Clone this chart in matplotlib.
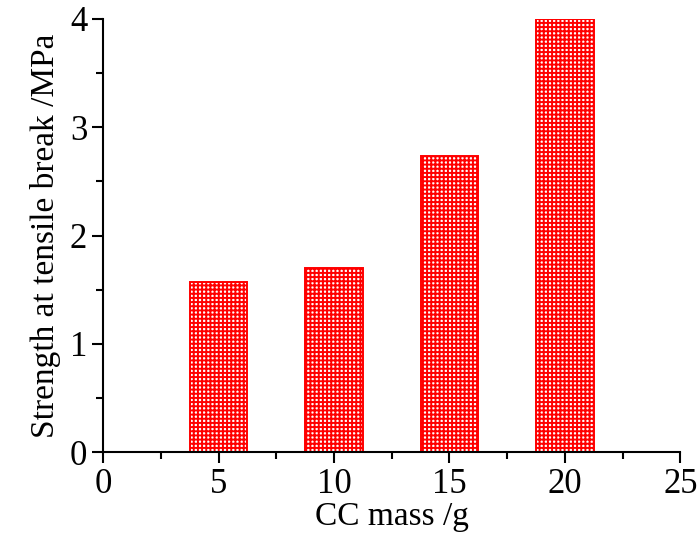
import matplotlib
matplotlib.use("Agg")
import matplotlib.pyplot as plt
from matplotlib.ticker import MultipleLocator

# data
cc_mass = [5, 10, 15, 20]
strength = [1.57, 1.70, 2.73, 4.0]

plt.rcParams['font.family'] = ['Liberation Serif', 'DejaVu Serif']
plt.rcParams['hatch.linewidth'] = 1.4
plt.rcParams['hatch.color'] = 'red'

fig = plt.figure(figsize=(6.97, 5.39), dpi=100)
ax = fig.add_axes([0.148, 0.161, 0.828, 0.804])

ax.bar(cc_mass, strength, width=2.5, color='white', edgecolor='red',
       hatch='++++', linewidth=1.4)

ax.set_xlim(0, 25)
ax.set_ylim(0, 4)
ax.xaxis.set_major_locator(MultipleLocator(5))
ax.xaxis.set_minor_locator(MultipleLocator(2.5))
ax.yaxis.set_major_locator(MultipleLocator(1))
ax.yaxis.set_minor_locator(MultipleLocator(0.5))

for s in ['top', 'right']:
    ax.spines[s].set_visible(False)
for s in ['left', 'bottom']:
    ax.spines[s].set_linewidth(1.5)

ax.tick_params(which='major', direction='out', length=8, width=1.5, labelsize=25)
ax.tick_params(which='minor', direction='out', length=5, width=1.5)

ax.set_xlabel('CC mass /g', fontsize=24, labelpad=0)
ax.set_ylabel('Strength at tensile break /MPa', fontsize=24, labelpad=6)

fig.savefig('out.png', dpi=100)
